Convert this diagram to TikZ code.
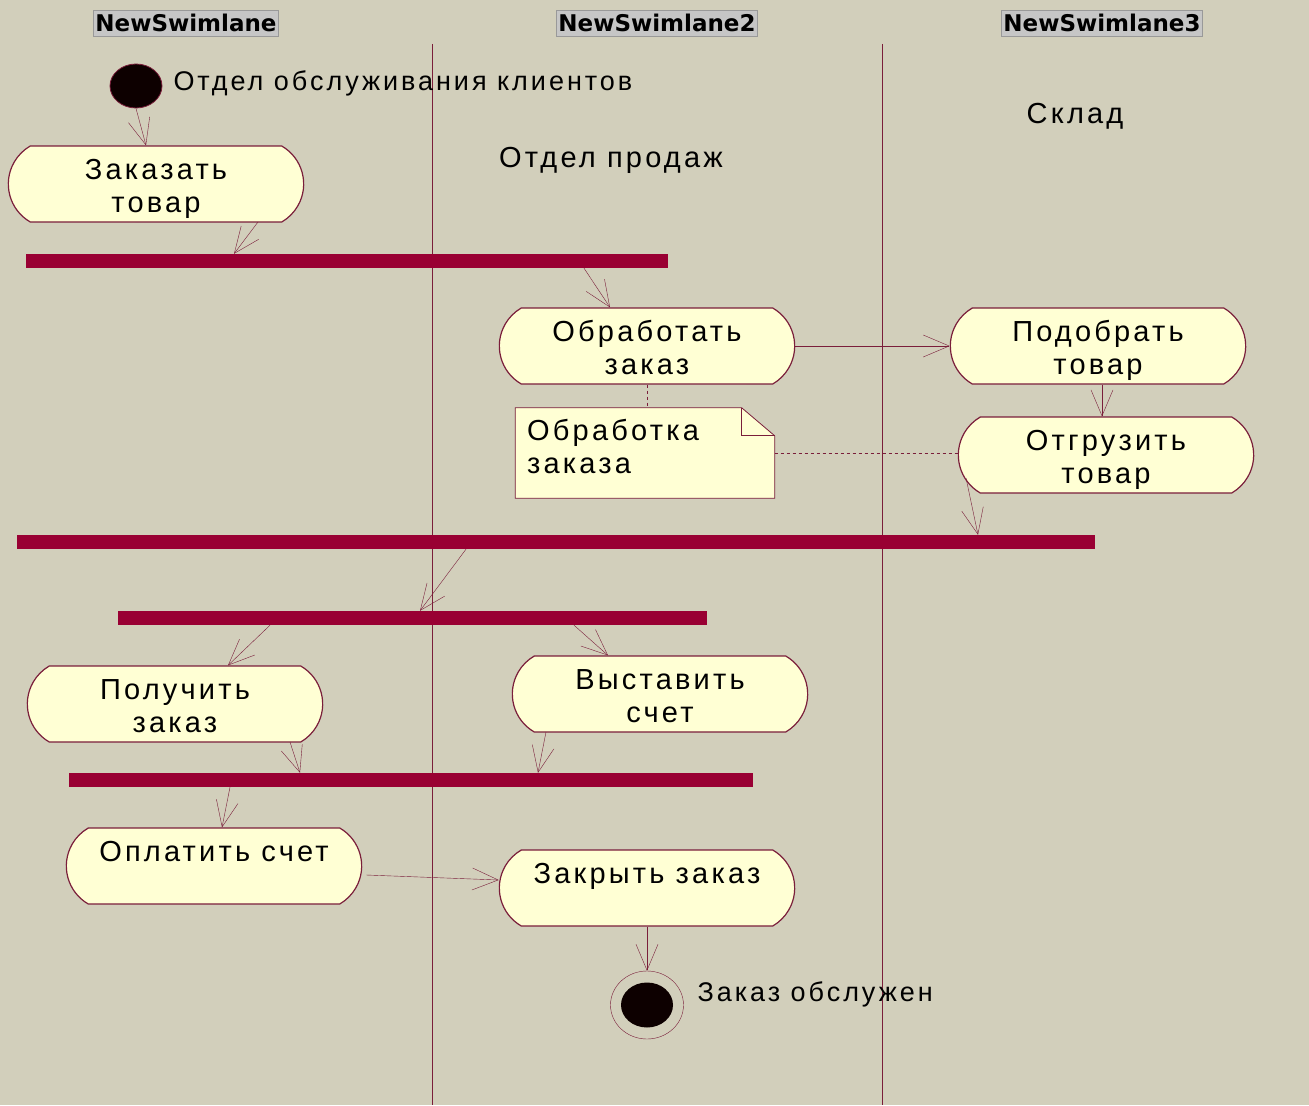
\documentclass[tikz,border=0pt]{standalone}
\usepackage{fontspec}
\setmainfont{Liberation Sans}
\newfontfamily\actfont[LetterSpace=11]{Liberation Sans}
\newfontfamily\headfont{DejaVu Sans}
\usepackage{tikz}
\usetikzlibrary{shapes.misc, shapes.geometric, arrows.meta, positioning}
\definecolor{slidebg}{HTML}{D2CFBB}
\definecolor{wine}{HTML}{990033}
\definecolor{maroon}{HTML}{7A1E3A}
\definecolor{cream}{HTML}{FFFFD4}

\begin{document}
\begin{tikzpicture}[x=1pt, y=-1pt,
            act/.style={rounded rectangle, rounded rectangle arc length=120, draw=maroon, line width=1.2pt, fill=cream, minimum width=302pt, inner ysep=0pt, text height=66pt, text depth=10pt, align=center, font=\actfont\fontsize{29}{33}\selectfont},
            oneline/.style={text height=33pt, text depth=43pt},
            lbl/.style={font=\actfont\fontsize{27}{30}\selectfont},
            bar/.style={rectangle, fill=wine, minimum height=14pt, inner sep=0pt},
            lanehead/.style={rectangle, draw=gray!80, fill=gray!45, inner xsep=2pt, minimum height=26pt, font=\headfont\fontsize{23}{25}\selectfont\bfseries},
            flow/.style={draw=maroon, -{Straight Barb[length=26pt, width=22pt]}},
            anchorline/.style={draw=maroon, dash pattern=on 3pt off 3pt}
        ]

            \fill[slidebg] (0,0) rectangle (1309,1105);

% Swimlanes
            \node[lanehead] (lane1) at (186,23) {NewSwimlane};
            \node[lanehead] (lane2) at (657,23) {NewSwimlane2};
            \node[lanehead] (lane3) at (1102,23) {NewSwimlane3};
            \draw[maroon] (432,44) -- (432,1105);
            \draw[maroon] (882,44) -- (882,1105);

            \node[font=\actfont\fontsize{29}{33}\selectfont] at (611,160) {Отдел продаж};
            \node[font=\actfont\fontsize{29}{33}\selectfont] at (1075,116) {Склад};

% Start
            \node[ellipse, draw=maroon, thick, fill=black!95!red, minimum width=52pt, minimum height=44pt, inner sep=0pt] (start) at (136,86) {};
            \node[lbl, anchor=west] at (170,83) {Отдел обслуживания клиентов};

% Activities
            \node[act] (zakazat) at (156,184) {Заказать\\товар};
            \node[act] (obrab) at (647,346) {Обработать\\заказ};
            \node[act] (podobr) at (1098,346) {Подобрать\\товар};
            \node[act] (otgruz) at (1106,455) {Отгрузить\\товар};
            \node[act] (poluch) at (175,704) {Получить\\заказ};
            \node[act] (vystav) at (660,694) {Выставить\\счет};
            \node[act, oneline] (oplat) at (214,866) {Оплатить счет};
            \node[act, oneline] (zakryt) at (647,888) {Закрыть заказ};

% Note
            \node[minimum width=259pt, minimum height=90pt] (note) at (645,453) {};
            \draw[maroon, thick, fill=cream] (note.north west) -- ([xshift=-33pt]note.north east) -- ([yshift=-28pt]note.north east) -- (note.south east) -- (note.south west) -- cycle;
            \draw[maroon, thick] ([xshift=-33pt]note.north east) -- ([xshift=-33pt, yshift=-28pt]note.north east) -- ([yshift=-28pt]note.north east);
            \node[anchor=north west, align=left, font=\actfont\fontsize{29}{33}\selectfont, inner sep=0pt] at (527,419) {Обработка\\заказа};

% Synchronisation bars
            \node[bar, minimum width=642pt] (sync1) at (347,261) {};
            \node[bar, minimum width=1078pt] (sync2) at (556,542) {};
            \node[bar, minimum width=589pt] (sync3) at (412,618) {};
            \node[bar, minimum width=684pt] (sync4) at (411,780) {};

% End
            \node[ellipse, draw=maroon, minimum width=73pt, minimum height=68pt, inner sep=0pt] (finish) at (647,1005) {};
            \node[ellipse, fill=black!95!red, minimum width=52pt, minimum height=45pt, inner sep=0pt] at (finish) {};
            \node[lbl, anchor=west] at (694,994) {Заказ обслужен};

% Transitions
            \draw[flow] (start.south) -- ([xshift=-10pt]zakazat.north);
            \draw[flow] ([xshift=102pt, yshift=-38pt]zakazat.center) -- ([xshift=-113pt]sync1.north);
            \draw[flow] ([xshift=237pt]sync1.south) -- ([xshift=-37pt]obrab.north);
            \draw[flow] (obrab.east) -- (podobr.west);
            \draw[flow] ([xshift=4pt]podobr.south) -- ([xshift=-4pt]otgruz.north);
            \draw[flow] ([xshift=-140pt, yshift=-23pt]otgruz.center) -- ([xshift=422pt]sync2.north);
            \draw[flow] ([xshift=-90pt]sync2.south) -- ([xshift=8pt]sync3.north);
            \draw[flow] ([xshift=-142pt]sync3.south) -- ([xshift=53pt]poluch.north);
            \draw[flow] ([xshift=162pt]sync3.south) -- ([xshift=-52pt]vystav.north);
            \draw[flow] ([xshift=115pt, yshift=-38pt]poluch.center) -- ([xshift=-111pt]sync4.north);
            \draw[flow] ([xshift=-114pt, yshift=-38pt]vystav.center) -- ([xshift=127pt]sync4.north);
            \draw[flow] ([xshift=-181pt]sync4.south) -- ([xshift=8pt]oplat.north);
            \draw[flow] ([xshift=4pt, yshift=-9pt]oplat.east) -- ([yshift=8pt]zakryt.west);
            \draw[flow] (zakryt.south) -- (finish.north);

% Note links
            \draw[anchorline] (obrab.south) -- (obrab.south |- note.north);
            \draw[anchorline] (note.east) -- (note.east -| otgruz.west);

        \end{tikzpicture}
\end{document}
